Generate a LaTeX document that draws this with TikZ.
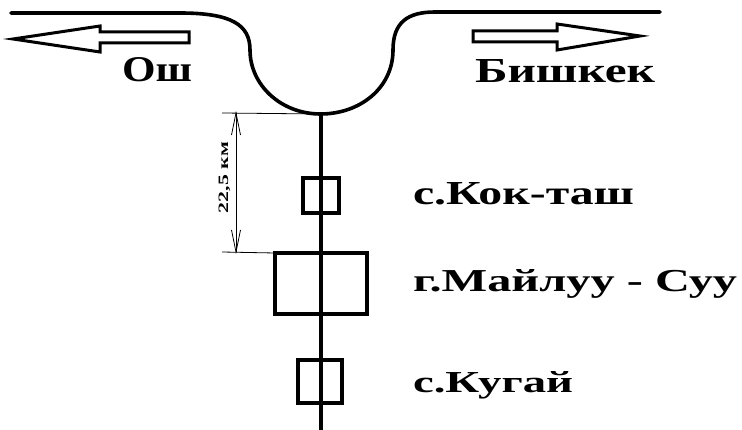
\documentclass[tikz,border=0pt]{standalone}
\usepackage{fontspec}
\setmainfont{Liberation Serif}
\usepackage{graphicx}
\begin{document}
\begin{tikzpicture}[x=1pt,y=-1pt,
  road/.style={line width=3.6pt, line cap=round},
  axis/.style={line width=4pt},
  stnbox/.style={draw, line width=4pt, inner sep=0pt, outer sep=0pt},
  dirarrow/.style={draw, line width=3pt, line join=miter},
  thin/.style={line width=0.8pt},
  lbl/.style={inner sep=0pt, outer sep=0pt, anchor=base west}]
\useasboundingbox (0,0) rectangle (742,430);

% road with the bend down to the junction
\coordinate (roadL) at (11,13);
\coordinate (roadR) at (660,12);
\coordinate (junc) at (320.5,114);
\draw[road] (roadL) -- (180,13)
  .. controls (232,13) and (250,25) .. (250,50)
  .. controls (250,85) and (281,114) .. (junc)
  .. controls (360,114) and (393,88) .. (393,50)
  .. controls (393,22) and (408,12) .. (435,12) -- (roadR);

% direction arrows
\draw[dirarrow] (13,39) -- (100,26) -- (100,32) -- (189,32) -- (189,43)
  -- (100,43) -- (100,52) -- cycle;
\draw[dirarrow] (640,36) -- (557,24) -- (557,31) -- (473,31) -- (473,42)
  -- (557,42) -- (557,50) -- cycle;

% city names
\node[lbl] (osh) at (122,82) {\resizebox{70pt}{24pt}{\bfseries Ош}};
\node[lbl] (bish) at (475,83) {\resizebox{180pt}{23pt}{\bfseries Бишкек}};

% settlements along the road
\node[stnbox, minimum width=36pt, minimum height=35pt] (kok) at (321,195.5) {};
\node[stnbox, minimum width=92pt, minimum height=61pt] (mai) at (321,283.5) {};
\node[stnbox, minimum width=44pt, minimum height=43pt] (kug) at (320,381.5) {};
\coordinate (bottom) at (320.5,430);
\draw[axis] (junc) -- (bottom);

\node[lbl] (kokl) at (413,205) {\resizebox{221pt}{22pt}{\bfseries с.Кок-таш}};
\node[lbl] (mail) at (413,292) {\resizebox{324pt}{22pt}{\bfseries г.Майлуу - Суу}};
\node[lbl] (kugl) at (413,393) {\resizebox{160pt}{21pt}{\bfseries с.Кугай}};

% distance dimension
\coordinate (d1) at (236,113);
\coordinate (d2) at (236,252);
\draw[thin] (222,113) -- (junc);
\draw[thin] (222,252) -- (mai.north west);
\draw[thin] (d1) -- (d2);
\draw[thin] (231.5,135) -- (d1) -- (240.5,135);
\draw[thin] (231.5,230) -- (d2) -- (240.5,230);
\node[rotate=90, anchor=base, inner sep=0pt] (dist) at (228,177.5)
  {\resizebox{71pt}{9.5pt}{\bfseries 22,5 км}};
\end{tikzpicture}
\end{document}
